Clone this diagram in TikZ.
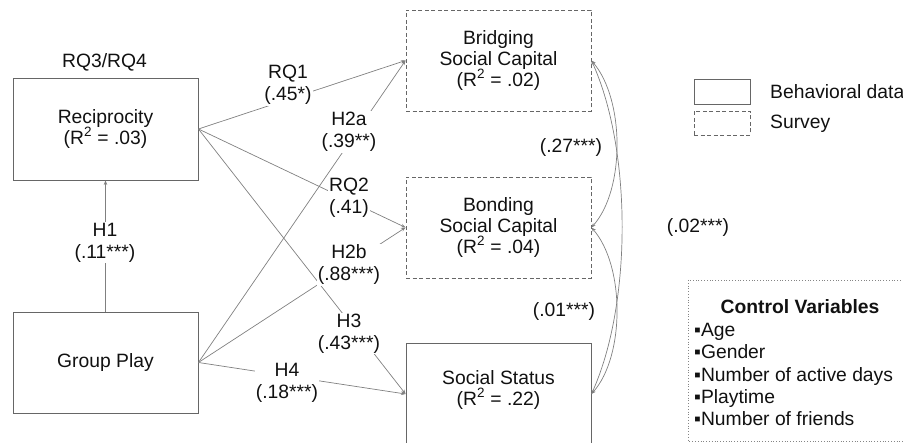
\documentclass[tikz,border=0pt]{standalone}
\usepackage{fontspec}
\setmainfont{Liberation Sans}
\usetikzlibrary{arrows.meta}
\definecolor{boxc}{HTML}{666666}
\definecolor{linec}{HTML}{808080}
\definecolor{txtc}{HTML}{111111}
\begin{document}
\begin{tikzpicture}[x=1pt,y=-1pt,
  every node/.style={text=txtc,font=\fontsize{19.3}{21}\selectfont},
  solidbox/.style={draw=boxc,line width=0.9pt,minimum width=185pt,minimum height=101pt,align=center,inner sep=0pt},
  dashbox/.style={solidbox,dash pattern=on 4pt off 2.5pt},
  conn/.style={draw=linec,line width=0.7pt,-{Stealth[length=4.5pt,width=3.5pt]}},
  cov/.style={draw=linec,line width=0.7pt,{Stealth[length=4.5pt,width=3.5pt]}-{Stealth[length=4.5pt,width=3.5pt]}},
  lab/.style={fill=white,inner sep=1pt,align=center,font=\fontsize{19.3}{22}\selectfont},
  plain/.style={inner sep=0pt,align=center}]
\useasboundingbox (0,0) rectangle (903,443);

% boxes
\node[solidbox,minimum height=102pt] (recip) at (105.5,129) {Reciprocity\\(R\textsuperscript{2} = .03)};
\node[solidbox] (group) at (105.5,362.5) {Group Play};
\node[dashbox] (bridge) at (498.5,60.5) {Bridging\\Social Capital\\(R\textsuperscript{2} = .02)};
\node[dashbox] (bond) at (498.5,227.5) {Bonding\\Social Capital\\(R\textsuperscript{2} = .04)};
\node[solidbox,minimum height=102pt] (status) at (498.5,394) {};
\node[plain] (statustxt) at (498.5,390) {Social Status\\(R\textsuperscript{2} = .22)};
\node[plain] (rq34) at (104.5,62) {RQ3/RQ4};

% connectors
\draw[conn] (group.north) -- (recip.south);
\draw[conn] (recip.east) -- (bridge.west);
\draw[conn] (recip.east) -- (bond.west);
\draw[conn] (recip.east) -- (status.west);
\draw[conn] (group.east) -- (bridge.west);
\draw[conn] (group.east) -- (bond.west);
\draw[conn] (group.east) -- (status.west);

% covariances
\draw[cov] (bridge.east) .. controls (625,100) and (625,190) .. (bond.east);
\draw[cov] (bond.east) .. controls (625,266) and (625,356) .. (status.east);
\draw[cov] (bridge.east) .. controls (632,150) and (632,304) .. (status.east);

% edge labels
\node[lab] (l1) at (105,242.5) {H1\\(.11***)};
\node[lab] (lrq1) at (288,85) {RQ1\\(.45*)};
\node[lab] (lh2a) at (349,132) {H2a\\(.39**)};
\node[lab] (lrq2) at (349,197.5) {RQ2\\(.41)};
\node[lab] (lh2b) at (349,265) {H2b\\(.88***)};
\node[lab] (lh3) at (349,333.5) {H3\\(.43***)};
\node[lab] (lh4) at (287,382.5) {H4\\(.18***)};
\node[plain] (c27) at (571,148) {(.27***)};
\node[plain] (c02) at (698,228) {(.02***)};
\node[plain] (c01) at (564,312) {(.01***)};

% legend
\node[draw=boxc,line width=0.9pt,minimum width=56pt,minimum height=25pt,inner sep=0pt] (legs) at (722,91.5) {};
\node[draw=boxc,line width=0.9pt,dash pattern=on 4pt off 2.5pt,minimum width=56pt,minimum height=24pt,inner sep=0pt] (legd) at (722,123) {};
\node[plain,anchor=west] (legst) at (770,92) {Behavioral data};
\node[plain,anchor=west] (legdt) at (770,124) {Survey};

% control variables
\draw[draw=boxc!80,line width=0.8pt,dotted] (688,280) rectangle (912,441);
\node[plain,font=\fontsize{19.3}{21}\bfseries\selectfont] (ctitle) at (800,307) {Control Variables};
\node[plain,anchor=north west,align=left,font=\fontsize{19.3}{22.3}\selectfont] (clist) at (694,323)
  {▪Age\\▪Gender\\▪Number of active days\\▪Playtime\\▪Number of friends};
\end{tikzpicture}
\end{document}
